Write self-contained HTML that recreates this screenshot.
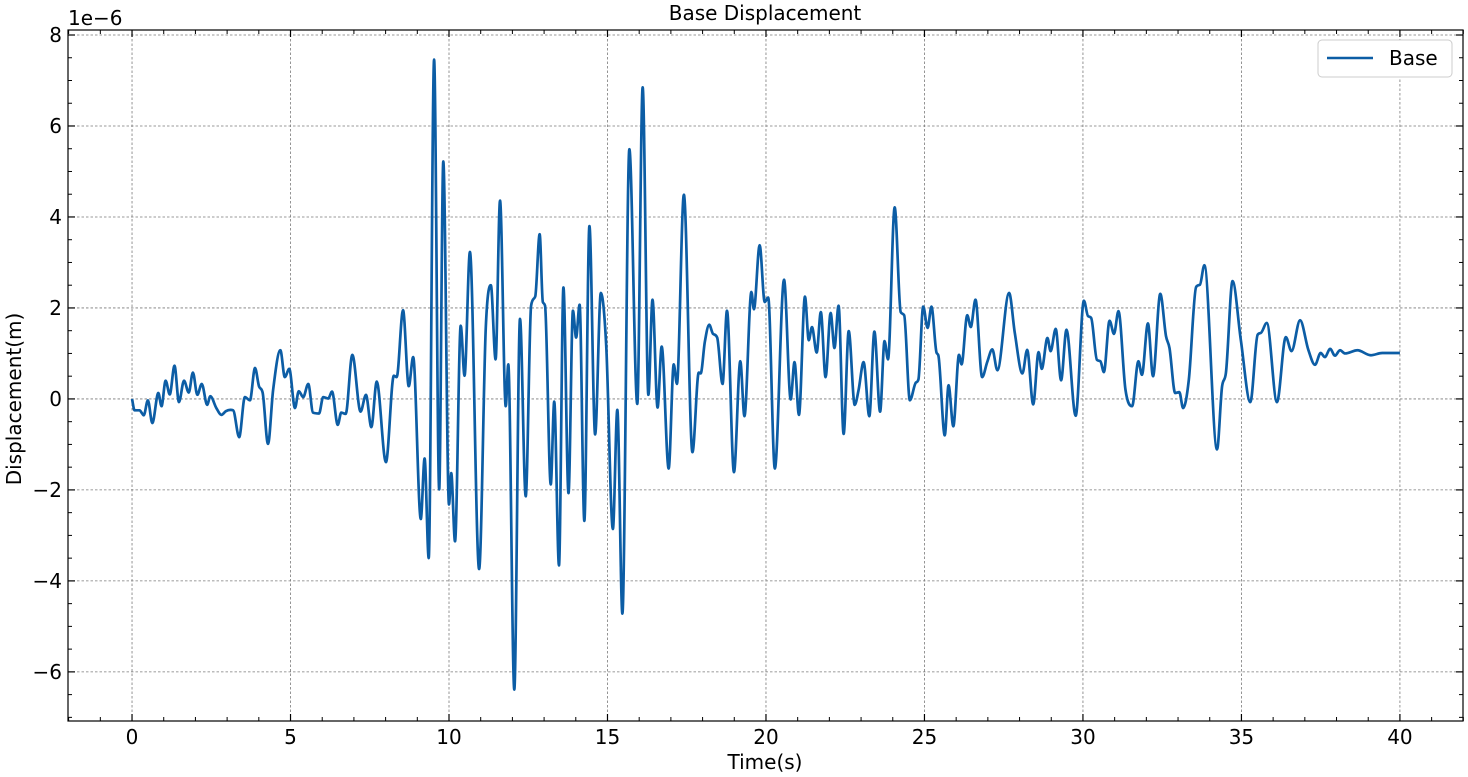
<!DOCTYPE html>
<html><head><meta charset="utf-8"><style>
html,body{margin:0;padding:0;background:#fff;}
svg{display:block;font-family:"DejaVu Sans","Liberation Sans",sans-serif;}
</style></head><body>
<svg id="chart" width="1468" height="777" viewBox="0 0 1468 777">
<g id="grid"></g>
<g id="series"></g>
<g id="axes"></g>
<text x="765" y="20" font-size="20" text-anchor="middle">Base Displacement</text>
<text x="765" y="769" font-size="20" text-anchor="middle">Time(s)</text>
<text transform="translate(21,399) rotate(-90)" font-size="20" text-anchor="middle">Displacement(m)</text>
<text x="68" y="25" font-size="20">1e−6</text>
<g>
<rect x="1318" y="40" width="134" height="37" rx="4" fill="#fff" stroke="#ccc" stroke-width="1"/>
<line x1="1327" y1="58" x2="1373" y2="58" stroke="#0c5da5" stroke-width="2.5"/>
<text x="1389" y="65" font-size="20">Base</text>
</g>
</svg>
<script>
const times=[0,0.08,0.24,0.3,0.37,0.5,0.64,0.83,0.93,1.06,1.19,1.34,1.48,1.64,1.79,1.92,2.06,2.2,2.37,2.47,2.66,2.82,2.96,3.1,3.19,3.38,3.56,3.72,3.88,4.01,4.12,4.29,4.45,4.68,4.82,4.96,5.14,5.26,5.4,5.56,5.71,5.9,6.03,6.19,6.31,6.49,6.6,6.74,6.95,7.21,7.38,7.55,7.72,8.01,8.26,8.35,8.55,8.73,8.87,9.11,9.23,9.36,9.53,9.69,9.82,10.0,10.07,10.19,10.37,10.49,10.66,10.95,11.16,11.32,11.47,11.61,11.79,11.87,12.06,12.24,12.42,12.59,12.72,12.86,12.96,13.03,13.21,13.32,13.47,13.61,13.77,13.91,14.01,14.12,14.27,14.43,14.61,14.79,14.96,15.17,15.31,15.47,15.69,15.94,16.11,16.29,16.42,16.58,16.71,16.93,17.09,17.19,17.41,17.68,17.88,17.94,18.07,18.21,18.33,18.46,18.63,18.77,18.99,19.19,19.32,19.54,19.62,19.8,19.96,20.07,20.28,20.57,20.78,20.9,21.04,21.23,21.35,21.45,21.6,21.73,21.88,22.04,22.16,22.29,22.45,22.61,22.8,22.92,23.08,23.26,23.42,23.6,23.74,23.85,24.06,24.25,24.36,24.54,24.73,24.81,24.96,25.1,25.22,25.38,25.44,25.64,25.76,25.91,26.09,26.17,26.35,26.46,26.61,26.82,26.98,27.14,27.3,27.67,27.85,28.09,28.24,28.43,28.6,28.7,28.88,28.98,29.14,29.31,29.48,29.77,30.03,30.16,30.26,30.44,30.55,30.66,30.84,30.98,31.12,31.34,31.55,31.75,31.86,32.05,32.21,32.44,32.62,32.73,32.91,33.04,33.16,33.34,33.57,33.69,33.83,34.23,34.39,34.51,34.72,34.98,35.28,35.51,35.61,35.8,36.12,36.4,36.58,36.85,37.11,37.32,37.5,37.63,37.8,37.95,38.11,38.27,38.66,39.08,39.44,40.0];
const displacement=[0,-0.25,-0.25,-0.3,-0.36,-0.03,-0.53,0.13,-0.16,0.4,0.1,0.73,-0.07,0.4,0.14,0.58,0.09,0.33,-0.13,0.06,-0.2,-0.35,-0.27,-0.24,-0.25,-0.84,0.04,-0.03,0.68,0.27,0.14,-0.99,0.19,1.07,0.48,0.66,-0.2,0.17,0.04,0.33,-0.3,-0.32,0.04,0.01,0.16,-0.57,-0.3,-0.33,0.97,-0.28,0.09,-0.62,0.38,-1.39,0.51,0.48,1.95,0.28,0.92,-2.64,-1.31,-3.5,7.46,-1.99,5.22,-2.32,-1.63,-3.13,1.61,0.51,3.23,-3.74,1.56,2.5,0.87,4.36,-0.16,0.76,-6.39,1.76,-2.14,2.05,2.25,3.62,2.13,2.05,-1.88,-0.06,-3.66,2.45,-2.07,1.94,1.35,2.07,-2.68,3.8,-0.78,2.33,1.17,-2.86,-0.24,-4.72,5.49,-0.11,6.85,0.09,2.18,-0.19,1.15,-1.53,0.76,0.33,4.49,-1.17,0.58,0.56,1.25,1.63,1.43,1.35,0.33,1.94,-1.61,0.83,-0.38,2.35,1.97,3.38,2.13,2.23,-1.53,2.62,-0.01,0.81,-0.35,2.25,1.29,1.58,1.02,1.91,0.48,1.89,1.12,2.05,-0.77,1.49,-0.13,0.19,0.81,-0.38,1.48,-0.28,1.27,0.87,4.21,1.91,1.84,-0.03,0.36,0.43,2.03,1.56,2.03,1.02,0.95,-0.8,0.3,-0.6,0.97,0.76,1.84,1.58,2.18,0.48,0.81,1.09,0.63,2.33,1.45,0.56,1.08,-0.12,1.03,0.66,1.34,1.05,1.54,0.41,1.52,-0.37,2.16,1.82,1.78,0.86,0.83,0.59,1.72,1.43,1.93,0.21,-0.16,0.83,0.53,1.66,0.5,2.31,1.38,1.12,0.13,0.15,-0.2,0.42,2.46,2.51,2.94,-1.11,0.28,0.57,2.59,1.3,-0.07,1.41,1.45,1.67,-0.07,1.36,1.05,1.73,1.08,0.75,1.01,0.92,1.1,0.95,1.07,1.0,1.07,0.96,1.01,1.01];
const xTicks=[0,5,10,15,20,25,30,35,40];
const yTicks=[-6,-4,-2,0,2,4,6,8];
const xTickLabels=["0","5","10","15","20","25","30","35","40"];
const yTickLabels=["−6","−4","−2","0","2","4","6","8"];

const L=68,R=1463,T=30,B=721;
const xMin=-2.02,xMax=41.99,yMin=-7.08,yMax=8.11;
function sx(t){return L+(t-xMin)/(xMax-xMin)*(R-L);}
function sy(v){return B-(v-yMin)/(yMax-yMin)*(B-T);}
const NS="http://www.w3.org/2000/svg";
function mk(tag,attrs,parent){const e=document.createElementNS(NS,tag);for(const k in attrs)e.setAttribute(k,attrs[k]);parent.appendChild(e);return e;}
const grid=document.getElementById('grid'),axes=document.getElementById('axes'),series=document.getElementById('series');

xTicks.forEach((t,i)=>{
  const x=sx(t);
  const g=mk('line',{x1:x,x2:x,y1:T,y2:B,stroke:'#7a7a7a','stroke-width':0.8,'stroke-dasharray':'2.5,2'},grid);
  
  
  const tk=mk('line',{x1:x,x2:x,y1:B,y2:B-7,stroke:'#000','stroke-width':1.2},axes);
  
  
  const tk2=mk('line',{x1:x,x2:x,y1:T,y2:T+7,stroke:'#000','stroke-width':1.2},axes);
  
  
  const lb=mk('text',{x:x,y:B+23,'font-size':20,'text-anchor':'middle'},axes);
  lb.textContent=xTickLabels[i];
  
  
});
for(let t=-2;t<=42;t+=1){
  if(t%5===0)continue;
  const x=sx(t);
  const m=mk('line',{x1:x,x2:x,y1:B,y2:B-4,stroke:'#000','stroke-width':1},axes);
  
  
  const m2=mk('line',{x1:x,x2:x,y1:T,y2:T+4,stroke:'#000','stroke-width':1},axes);
  
  
}
yTicks.forEach((v,i)=>{
  const y=sy(v);
  const g=mk('line',{x1:L,x2:R,y1:y,y2:y,stroke:'#7a7a7a','stroke-width':0.8,'stroke-dasharray':'2.5,2'},grid);
  
  
  const tk=mk('line',{x1:L,x2:L+7,y1:y,y2:y,stroke:'#000','stroke-width':1.2},axes);
  
  
  const tk2=mk('line',{x1:R,x2:R-7,y1:y,y2:y,stroke:'#000','stroke-width':1.2},axes);
  
  
  const lb=mk('text',{x:L-6,y:y+7,'font-size':20,'text-anchor':'end'},axes);
  lb.textContent=yTickLabels[i];
  
  
});
for(let v=-7;v<=8;v+=0.5){
  if(Math.abs(v%2)<1e-9)continue;
  const y=sy(v);
  const m=mk('line',{x1:L,x2:L+4,y1:y,y2:y,stroke:'#000','stroke-width':1},axes);
  
  
  const m2=mk('line',{x1:R,x2:R-4,y1:y,y2:y,stroke:'#000','stroke-width':1},axes);
  
  
}
const frame=mk('rect',{x:L,y:T,width:R-L,height:B-T,fill:'none',stroke:'#000','stroke-width':1.2},axes);



const n=times.length,px=times.map(sx),py=displacement.map(sy);
const d=[],m=[];
for(let i=0;i<n-1;i++)d.push((py[i+1]-py[i])/(px[i+1]-px[i]));
m.push(d[0]);
for(let i=1;i<n-1;i++){m.push(d[i-1]*d[i]<=0?0:(d[i-1]+d[i])/2);}
m.push(d[n-2]);
for(let i=0;i<n-1;i++){
  if(d[i]===0){m[i]=0;m[i+1]=0;continue;}
  const a=m[i]/d[i],b=m[i+1]/d[i],s=a*a+b*b;
  if(s>9){const tau=3/Math.sqrt(s);m[i]=tau*a*d[i];m[i+1]=tau*b*d[i];}
}
let p='M'+px[0].toFixed(2)+','+py[0].toFixed(2);
for(let i=0;i<n-1;i++){
  const h=(px[i+1]-px[i])/3;
  p+=' C'+(px[i]+h).toFixed(2)+','+(py[i]+m[i]*h).toFixed(2)+' '+(px[i+1]-h).toFixed(2)+','+(py[i+1]-m[i+1]*h).toFixed(2)+' '+px[i+1].toFixed(2)+','+py[i+1].toFixed(2);
}
const line=mk('path',{d:p,fill:'none',stroke:'#0c5da5','stroke-width':2.7,'stroke-linejoin':'round'},series);


</script>
</body></html>
